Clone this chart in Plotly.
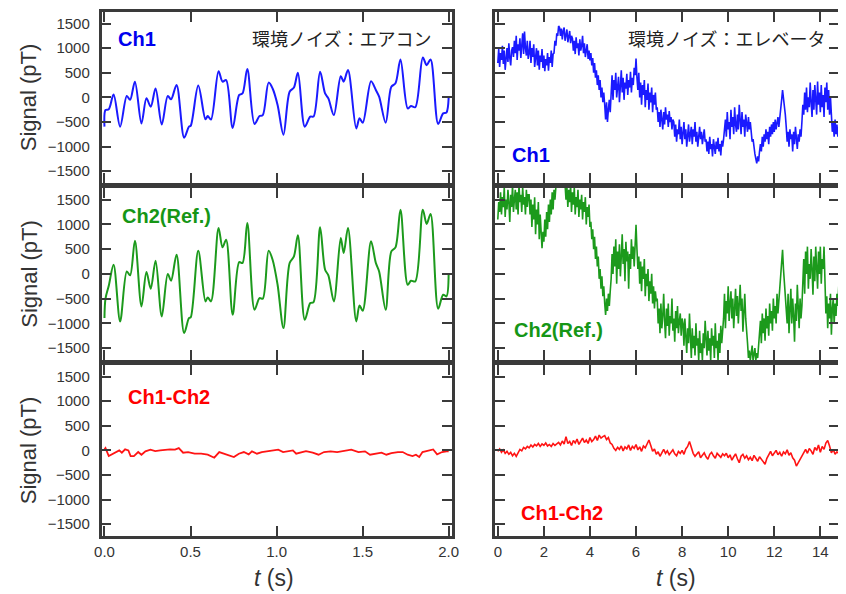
import plotly.graph_objects as go

# ---------------- Left column : air-conditioner noise (t in s, signal in pT) ----------------
t_ac = [0.0, 0.006, 0.025, 0.053, 0.091, 0.130, 0.149, 0.177, 0.215, 0.244, 0.269, 0.297,
        0.333, 0.368, 0.387, 0.419, 0.463, 0.491, 0.501, 0.545, 0.587, 0.600, 0.619, 0.663,
        0.686, 0.707, 0.745, 0.783, 0.802, 0.830, 0.872, 0.901, 0.920, 0.954, 0.977, 1.006,
        1.040, 1.076, 1.101, 1.124, 1.164, 1.196, 1.215, 1.253, 1.282, 1.301, 1.333, 1.373,
        1.390, 1.415, 1.463, 1.482, 1.501, 1.549, 1.577, 1.596, 1.634, 1.667, 1.691, 1.720,
        1.762, 1.781, 1.806, 1.850, 1.872, 1.895, 1.939, 1.968, 1.987, 2.000]
ch1_ac = [-595, -257, -243, 60, -595, 30, -50, 320, -530, -20, -190, 180,
          -550, 30, -40, 250, -820, -595, -580, 240, -445, -380, -450, 530,
          320, 350, -620, 50, 80, 575, -540, -380, -360, 300, 180, -155,
          -760, 115, 200, 500, -595, -390, -390, 520, 80, -20, -360, 430,
          320, 555, -630, -425, -515, 330, 150, 15, -515, 215, 285, 770,
          -225, -175, -200, 810, 655, 770, -540, -325, -310, 0]
ch2_ac = [-893, -500, -240, 185, -960, 50, -30, 670, -657, 37, -300, 266,
          -860, 0, -138, 388, -1196, -893, -880, 468, -556, -475, -556, 927,
          536, 691, -826, 239, 219, 1028, -725, -489, -502, 468, 286, -219,
          -1095, 219, 354, 778, -927, -590, -570, 940, 84, -30, -556, 725,
          421, 927, -960, -637, -745, 657, 219, 50, -725, 455, 536, 1297,
          -219, -138, -152, 1297, 1008, 1210, -704, -421, -455, 17]
t_ac_diff = [0.0, 0.006, 0.025, 0.048, 0.067, 0.086, 0.101, 0.12, 0.139, 0.152, 0.171, 0.196,
             0.215, 0.238, 0.267, 0.295, 0.324, 0.352, 0.381, 0.41, 0.432, 0.457, 0.486, 0.524,
             0.562, 0.6, 0.638, 0.667, 0.695, 0.724, 0.752, 0.781, 0.81, 0.838, 0.857, 0.886,
             0.914, 0.943, 0.971, 1.01, 1.038, 1.067, 1.095, 1.114, 1.143, 1.171, 1.21, 1.244,
             1.276, 1.314, 1.352, 1.39, 1.434, 1.476, 1.514, 1.543, 1.581, 1.61, 1.638, 1.667,
             1.705, 1.733, 1.762, 1.79, 1.81, 1.829, 1.848, 1.876, 1.91, 1.933, 1.962, 1.987, 2.0]
diff_ac = [20, 47, -115, -68, -34, 0, -47, 20, 0, -115, -115, -34,
           -88, -20, 14, -14, 0, 14, 20, 14, 47, -47, -34, -68,
           -68, -88, -149, -34, -68, -101, -135, -68, -34, -81, -20, -68,
           -34, -20, 0, 14, -34, -20, 0, -68, -34, -14, -47, -88,
           -34, -20, -34, -14, 14, -34, -20, -88, -68, -47, -88, -54,
           -34, -34, -88, -115, -88, -135, -34, -14, 20, -81, -34, -20, -20]

# ---------------- Right column : elevator noise, sampled every dt_el seconds ----------------
dt_el = 0.04
ch1_el = [
    700, 980, 620, 900, 760, 1050, 680, 950, 560, 880, 1000, 720, 1100, 800, 650, 950, 1020,
    820, 1150, 900, 1250, 760, 1080, 950, 1200, 800, 1000, 1300, 880, 1340, 1000, 850, 1150, 780, 900,
    1150, 700, 1000, 820, 1080, 620, 900, 1000, 650, 950, 560, 850, 720, 980, 600, 850, 530, 780, 650,
    900, 540, 820, 700, 950, 620, 880,
    900, 1150, 1050, 1300, 1250, 1450,
    1420, 1250, 1400, 1180, 1350, 1420, 1150, 1300, 1380, 1120, 1280, 1350, 1100, 1250,
    1200, 950, 1150, 880, 1220, 1000, 1100, 850, 1180, 950, 1050, 1250, 900, 1100, 820, 1000, 1080,
    780, 950, 750,
    900, 650, 800, 500, 700, 400, 550, 250, 450, 150, 350, 0, 200, -100, 100,
    -150, -450, -100, -500, -250, -50, -300,
    100, 450, -50, 350, 150, 500, 0, 300, 420, -100, 250, 550, 100, 400, -50, 300, 180, 480, 50, 350,
    200, 520, 100, 400, 250, 600, 450, 790,
    400, 150, 500, 0, 300, -150, 250, 50, 350, -200, 150, -50, 280, -250, 100, -100, 200, -300, 50,
    -150, 100, -250,
    -200, -500, -300, -600, -250, -450, -650, -300, -550, -200, -450, -350, -600, -280, -500, -400,
    -650, -450,
    -500, -800, -550, -900, -650, -750, -450, -850, -600, -950, -700, -500, -850, -650, -1000, -700,
    -550, -900, -750, -600, -950, -650, -800, -500, -900, -700, -1000, -750, -600, -850, -700, -950,
    -800, -650, -900,
    -850, -1100, -900, -1150, -800, -1050, -950, -1200, -850, -1000, -1150, -900, -1050, -820, -1100,
    -950, -1180, -880, -1000, -850,
    -700, -450, -800, -300, -650, -500, -850, -250, -600, -400, -750, -200, -550, -700, -350, -650,
    -150, -500, -750, -300, -600, -450, -800, -350, -550, -700, -400, -650, -500,
    -750, -900, -850, -1050, -1150, -1250, -1340, -1200, -1300, -1100,
    -950, -1100, -800, -1000, -750, -900, -650, -850, -700, -950, -600, -800, -550, -750, -500, -700,
    -450, -650, -550, -400, -600, -350,
    -250, -50, 150, 0, -150, -350,
    -600, -900, -700, -1000, -650, -850, -750, -1100, -700, -950, -600, -800, -1050, -750, -900, -650,
    -800,
    -500, -150, -350, 100, -250, 200, -300, 0, -200, 300, -100, -400, 150, -250, 250, -50, -350, 320,
    -150, 100, -300, 250, -200, 50, -400, 200, -100, 300, -250, 150, -350, 0, -450,
    -700, -500, -800, -450, -750, -550, -800, -600]
ch2_el = [
    1100, 1450, 1250, 1650, 1200, 1550, 1350, 1750, 1150, 1500, 1300, 1700, 1450, 1050, 1600, 1350,
    1800, 1250, 1500, 1700, 1300, 1650, 1200, 1800, 1450, 1600, 1250, 1750, 1400, 1550, 1200, 1700,
    1350, 1600,
    1600, 1200, 1500, 950, 1400, 1100, 1550, 800, 1300, 1000, 1450, 700, 1200, 900, 520, 850, 650,
    1100, 750, 1250, 900, 1400, 1050, 1500, 1200, 1650, 1300, 1700, 1500, 1750,
    1900, 2100, 2000, 2200, 2050, 2150, 1950, 2100, 1900,
    1800, 1500, 1750, 1350, 1700, 1450, 1800, 1250, 1650, 1400, 1750, 1200, 1550, 1350, 1700, 1150,
    1500, 1300, 1600, 1100, 1450, 1250, 1550, 1000, 1350, 1150, 1400, 950,
    1050, 700, 900, 500, 750, 300, 550, 150, 350, -100, 100, -300, -50, -450, -250,
    -600, -830, -500, -750, -400, -650, -350,
    -100, 400, 0, 550, 150, 700, -200, 450, 100, 600, -50, 350, 800, 200, 500, -150, 650, 250, 450,
    -300, 400, 100, 700, 300, 550, 150, 800, 990,
    500, 100, 350, -200, 250, -350, 150, -100, 300, -450, 0, -250, 100, -550, -150, -400, 0, -600,
    -250, -700, -350, -550,
    -500, -1000, -700, -1200, -600, -1100, -850, -400, -950, -1300, -700, -1050, -600, -1250, -850,
    -1000, -500, -1150, -900, -1370, -750, -1100, -650, -1200, -950, -800, -1250, -900,
    -1000, -1450, -900, -1350, -1600, -1100, -1400, -800, -1300, -1700, -1100, -1500, -1250, -1650,
    -1000, -1450, -1300, -1750, -1150, -1600, -1400, -1750,
    -1200, -1500, -950, -1400, -1650, -1150, -1550, -1300, -1750, -1100, -1450, -1250, -1700, -1000,
    -1500, -1350, -1750, -1200, -1600, -1050, -1400, -1150,
    -900, -400, -1100, -550, -800, -250, -950, -600, -350, -900, -500, -1100, -700, -300, -850, -450,
    -1000, -600, -220, -750, -500, -1170, -650, -400, -900, -1100,
    -1400, -1700, -1550, -1750, -1600, -1450, -1750, -1650, -1500, -1750, -1600, -1700, -1450,
    -1300, -950, -1400, -800, -1200, -900, -1350, -700, -1100, -850, -1250, -600, -1000, -750, -1150,
    -500, -900, -650, -1000, -400, -800, -550, -300,
    -100, 250, 485, 100, -200, -450,
    -600, -1000, -400, -1200, -700, -300, -1000, -500, -850, -1370, -600, -950, -220, -800, -1100,
    -500, -900, -650,
    -200, 300, -400, 450, 0, 550, -300, 200, -100, 500, 100, -420, 350, -150, 550, 200, -300, 450, 0,
    550, -200, 300, 100, 550,
    -300, -800, -450, -1100, -600, -900, -400, -1230, -700, -500, -1000, -600, -850, -400, -650, -250]
dt_diff = 0.08
diff_el = [-20, 30, -40, 10, -60, -20, -80, -40, -110, -60, -120,
           -40, 20, -10, 60, 30, 80, 50, 110, 70, 120, 90, 140, 80, 130, 100, 150, 90, 120, 80, 140, 100, 130,
           160, 110, 190, 130, 280, 140, 180, 100, 200, 150, 230, 120, 190, 250, 160, 210, 140, 260, 180, 220,
           290, 200, 310, 250, 280,
           300, 220, 260, 150, 120, 40, 0,
           60, 20, 90, -10, 70, 30, 110, 0, 80, 40, 120, 10, 70, -20, 90, 50, 130, 210,
           100, -20, 30, -80, -30, -120, -50, 20, -60, -10, -90, -40, 10, -70, -110, -20, -60, 0, -80, 30, 80, 180,
           50, -60, -120, -70, -30, -150, -90, -50, -130, -180, -80, -40, -110, -160, -60, -100, -140, -70,
           -110, -60, -150, -90, -200, -130, -70, -170, -250, -120, -80, -160, -110, -190, -140, -210, -100,
           -160, -220, -130, -180, -240, -280,
           -160, -80, -20, -110, -60, 0, -90, -40, -120, -30, -70, 10, -100, -50, -150, -200,
           -320, -250, -180,
           -100, -30, 20, -60, 40, -10, -80, 60, 0, 110, -40, 80, 20, 150, 200, 90,
           -50, 20, -80, -30, -60]

y_ticks = [-1500, -1000, -500, 0, 500, 1000, 1500]
x_ticks_ac = [0.0, 0.5, 1.0, 1.5, 2.0]
x_ticks_el = [0, 2, 4, 6, 8, 10, 12, 14]

# ---------------- styling ----------------
OFF = 8                      # page body margin in the browser
WIN_W, WIN_H = 846, 594
W, H = WIN_W - OFF, WIN_H - OFF
BLUE, GREEN, RED = "#1a1aff", "#1c9a1c", "#ff1414"
BLUE_T, GREEN_T, RED_T = "#0000ee", "#169616", "#ff0000"
AX = "#3a3a3a"
TXT = "#333333"
FONT = "Liberation Sans, Arial, sans-serif"
JP = "Noto Sans CJK JP"


def fx(p):
    return (p - OFF) / W


def fy(p):
    return 1 - (p - OFF) / H


colL = [fx(96), fx(452)]
colR = [fx(496), 1.0]
rows_px = [(12, 183), (188, 360), (365, 536)]
rows = [[fy(b), fy(t)] for t, b in rows_px]
YR = [-1740, 1735]
XR_L = [-0.017, 2.017]
XR_R = [-0.128, 14.81]

fig = go.Figure()


def add(idx, **kw):
    fig.add_trace(go.Scatter(mode="lines", xaxis=f"x{idx}" if idx > 1 else "x",
                             yaxis=f"y{idx}" if idx > 1 else "y", showlegend=False,
                             hoverinfo="skip", **kw))


add(1, x=t_ac, y=ch1_ac, line=dict(color=BLUE, width=2, shape="spline", smoothing=0.9))
add(2, x0=0, dx=dt_el, y=ch1_el, line=dict(color=BLUE, width=1.6))
add(3, x=t_ac, y=ch2_ac, line=dict(color=GREEN, width=2, shape="spline", smoothing=0.9))
add(4, x0=0, dx=dt_el, y=ch2_el, line=dict(color=GREEN, width=1.6))
add(5, x=t_ac_diff, y=diff_ac, line=dict(color=RED, width=1.8))
add(6, x0=0, dx=dt_diff, y=diff_el, line=dict(color=RED, width=1.6))

layout = dict(width=W, height=H, margin=dict(l=0, r=0, t=0, b=0),
              paper_bgcolor="white", plot_bgcolor="white",
              font=dict(family=FONT, color=TXT, size=15))

for i in range(6):
    idx = i + 1
    r, c = divmod(i, 2)
    xs = "xaxis" if idx == 1 else f"xaxis{idx}"
    ys = "yaxis" if idx == 1 else f"yaxis{idx}"
    anchor_y = "y" if idx == 1 else f"y{idx}"
    anchor_x = "x" if idx == 1 else f"x{idx}"
    bottom = (r == 2)
    layout[xs] = dict(domain=colL if c == 0 else colR, anchor=anchor_y,
                      range=XR_L if c == 0 else XR_R,
                      tickvals=x_ticks_ac if c == 0 else x_ticks_el,
                      ticktext=([f"{v:.1f}" for v in x_ticks_ac] if c == 0 else [str(v) for v in x_ticks_el]),
                      showticklabels=bottom, ticks="inside", ticklen=10, tickwidth=2, tickcolor=AX,
                      showline=True, linecolor=AX, linewidth=2.5, mirror="ticks",
                      showgrid=False, zeroline=False, fixedrange=True,
                      tickfont=dict(size=15, color=TXT, family=FONT), ticklabelstandoff=0)
    layout[ys] = dict(domain=rows[r], anchor=anchor_x, range=YR, tickvals=y_ticks,
                      showticklabels=(c == 0), ticks="inside", ticklen=10, tickwidth=2, tickcolor=AX,
                      showline=True, linecolor=AX, linewidth=2.5, mirror="ticks",
                      showgrid=False, zeroline=False, fixedrange=True,
                      tickfont=dict(size=15, color=TXT, family=FONT), ticklabelstandoff=6)

fig.update_layout(**layout)


def ann(text, xpx, ypx, size, color, family=FONT, angle=0, bold=False):
    fig.add_annotation(text=f"<b>{text}</b>" if bold else text, x=fx(xpx), y=fy(ypx),
                       xref="paper", yref="paper", showarrow=False, textangle=angle,
                       xanchor="center", yanchor="middle",
                       font=dict(size=size, color=color, family=family))


# panel labels
ann("Ch1", 132, 39, 20, BLUE_T, bold=True)
ann("Ch1", 533, 155, 20, BLUE_T, bold=True)
ann("Ch2(Ref.)", 162, 216, 20, GREEN_T, bold=True)
ann("Ch2(Ref.)", 561, 330, 20, GREEN_T, bold=True)
ann("Ch1-Ch2", 165, 397, 20, RED_T, bold=True)
ann("Ch1-Ch2", 564, 513, 20, RED_T, bold=True)
ann("環境ノイズ：エアコン", 340, 38, 18, "#222222", family=JP)
ann("環境ノイズ：エレベータ", 732, 38, 18, "#222222", family=JP)

# axis titles
for t, b in rows_px:
    ann("Signal (pT)", 22, (t + b) / 2, 22, TXT, angle=-90)
ann("<i>t</i> (s)", 271, 578, 23, TXT)
ann("<i>t</i> (s)", 680, 578, 23, TXT)

fig.write_html("out.html")
